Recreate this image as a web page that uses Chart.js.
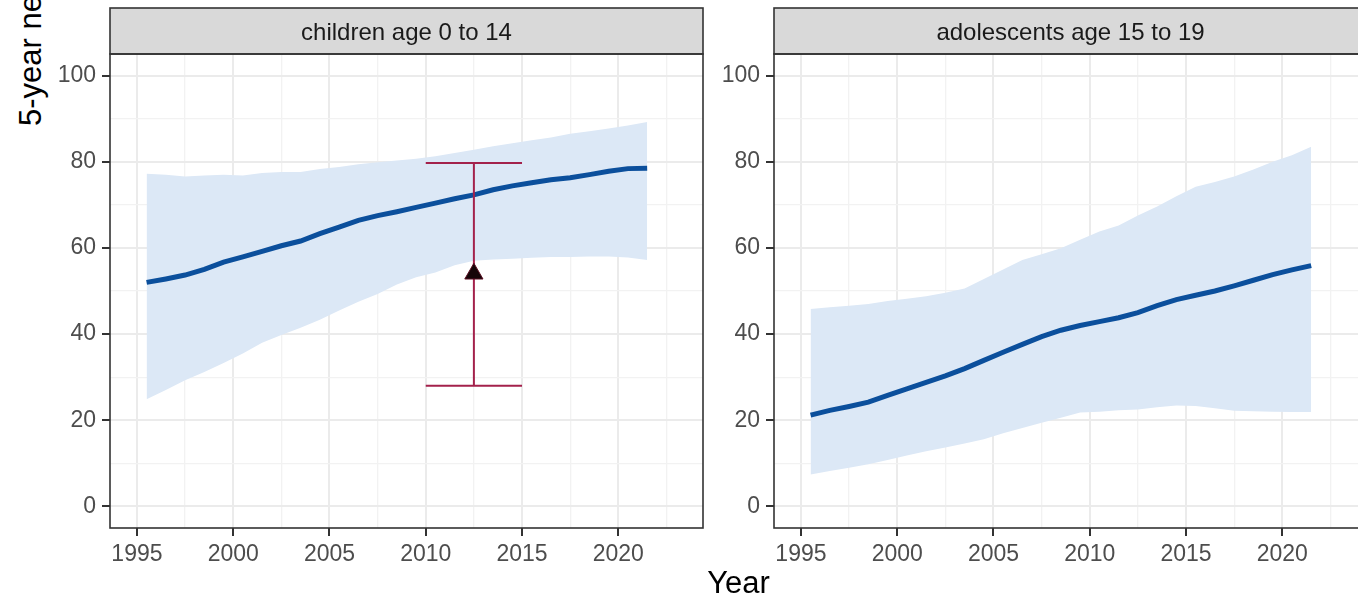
<!DOCTYPE html>
<html>
<head>
<meta charset="utf-8">
<script src="https://cdn.jsdelivr.net/npm/chart.js@4.4.1/dist/chart.umd.min.js"></script>
<style>
  html, body { margin: 0; padding: 0; background: #fff; overflow: hidden; }
  body { width: 1358px; height: 597px; position: relative; font-family: "Liberation Sans", Arial, sans-serif; }
  .panel { position: absolute; top: 0; width: 710px; height: 597px; }
  .panel canvas { display: block; }
  #yTitle {
    position: absolute; left: 15px; top: 126px; white-space: nowrap;
    font-size: 31px; line-height: 31px; color: #000;
    transform-origin: left top; transform: rotate(-90deg);
  }
  #xTitle {
    position: absolute; left: 110px; width: 1257px; top: 567px; text-align: center;
    font-size: 31px; line-height: 31px; color: #000;
  }
</style>
</head>
<body>
<div id="yTitle">5-year net survival (%)</div>
<div class="panel" style="left:0px"><canvas id="children" width="710" height="597"></canvas></div>
<div class="panel" style="left:664px"><canvas id="adolescents" width="710" height="597"></canvas></div>
<div id="xTitle">Year</div>
<script>
const years = [1995.5, 1996.5, 1997.5, 1998.5, 1999.5, 2000.5, 2001.5, 2002.5, 2003.5, 2004.5,
  2005.5, 2006.5, 2007.5, 2008.5, 2009.5, 2010.5, 2011.5, 2012.5, 2013.5, 2014.5,
  2015.5, 2016.5, 2017.5, 2018.5, 2019.5, 2020.5, 2021.5];

const childEst = [52.0, 52.8, 53.7, 55.0, 56.7, 57.9, 59.2, 60.5, 61.6, 63.3,
  64.8, 66.4, 67.5, 68.4, 69.4, 70.4, 71.4, 72.3, 73.5, 74.4,
  75.1, 75.8, 76.3, 77.0, 77.8, 78.4, 78.5];
const childUpper = [77.2, 77.0, 76.6, 76.8, 77.0, 76.8, 77.4, 77.6, 77.6, 78.3,
  78.8, 79.4, 79.9, 80.3, 80.7, 81.3, 82.0, 82.8, 83.6, 84.3,
  85.0, 85.6, 86.5, 87.1, 87.7, 88.4, 89.2];
const childLower = [24.9, 27.0, 29.3, 31.2, 33.3, 35.5, 38.0, 39.8, 41.5, 43.3,
  45.5, 47.5, 49.3, 51.5, 53.2, 54.3, 56.0, 57.0, 57.3, 57.5,
  57.7, 57.9, 57.9, 58.0, 58.0, 57.8, 57.2];

const adolEst = [21.2, 22.3, 23.2, 24.2, 25.8, 27.3, 28.8, 30.3, 32.0, 33.9,
  35.8, 37.6, 39.4, 40.9, 42.0, 42.9, 43.8, 45.0, 46.6, 48.0,
  49.0, 50.0, 51.2, 52.5, 53.8, 54.9, 55.9];
const adolUpper = [45.8, 46.2, 46.6, 47.0, 47.7, 48.2, 48.8, 49.6, 50.6, 52.8,
  55.0, 57.2, 58.5, 59.9, 61.9, 63.8, 65.2, 67.5, 69.6, 72.0,
  74.2, 75.3, 76.6, 78.2, 80.0, 81.5, 83.5];
const adolLower = [7.4, 8.2, 9.0, 9.8, 10.8, 11.8, 12.8, 13.7, 14.6, 15.6,
  17.0, 18.2, 19.4, 20.6, 21.8, 22.0, 22.3, 22.5, 23.0, 23.4,
  23.3, 22.8, 22.2, 22.1, 22.0, 21.9, 21.9];

// reference estimate (children panel): period 2010-2015
const refPeriod = [2010, 2015];
const refEst = 54;
const refLow = 28;
const refHigh = 79.7;

const xTicks = [1995, 1997.5, 2000, 2002.5, 2005, 2007.5, 2010, 2012.5, 2015, 2017.5, 2020, 2022.5];
const yTicks = [0, 10, 20, 30, 40, 50, 60, 70, 80, 90, 100];

const FONT = "'Liberation Sans', Arial, sans-serif";
const isMajorX = (v) => Number.isInteger(v);
const isMajorY = (v) => v % 20 === 0;

const pts = (xs, ys) => xs.map((x, i) => ({ x: x, y: ys[i] }));

const stripPlugin = {
  id: "strip",
  afterDraw(chart, args, opts) {
    const { ctx, chartArea: a } = chart;
    ctx.save();
    ctx.fillStyle = "#d9d9d9";
    ctx.fillRect(a.left, 8, a.right - a.left, a.top - 8);
    ctx.strokeStyle = "#333333";
    ctx.lineWidth = 1.6;
    ctx.strokeRect(a.left, 8, a.right - a.left, a.top - 8);
    ctx.strokeRect(a.left, a.top, a.right - a.left, a.bottom - a.top);
    ctx.fillStyle = "#1a1a1a";
    ctx.font = "24px " + FONT;
    ctx.textAlign = "center";
    ctx.textBaseline = "middle";
    ctx.fillText(opts.text, (a.left + a.right) / 2, (a.top + 8) / 2 + 2);
    ctx.restore();
  },
};

function panel(id, title, est, lower, upper, withRef) {
  const datasets = [
    { data: pts(years, lower), borderWidth: 0, pointRadius: 0, fill: false, order: 10 },
    { data: pts(years, upper), borderWidth: 0, pointRadius: 0, fill: "-1",
      backgroundColor: "#dce8f6", order: 9 },
    { data: pts(years, est), borderColor: "#0b4f9c", borderWidth: 5, pointRadius: 0,
      fill: false, order: 5 },
  ];
  if (withRef) {
    const mid = (refPeriod[0] + refPeriod[1]) / 2;
    const bar = { borderColor: "#a3214b", borderWidth: 2, pointRadius: 0, fill: false, order: 3 };
    datasets.push({ ...bar, data: [{ x: mid, y: refLow }, { x: mid, y: refHigh }] });
    datasets.push({ ...bar, data: [{ x: refPeriod[0], y: refHigh }, { x: refPeriod[1], y: refHigh }] });
    datasets.push({ ...bar, data: [{ x: refPeriod[0], y: refLow }, { x: refPeriod[1], y: refLow }] });
    datasets.push({ data: [{ x: mid, y: refEst }], showLine: false, pointStyle: "triangle",
      pointRadius: 10.5, backgroundColor: "#150508", borderColor: "#5a0f22", borderWidth: 1, order: 1 });
  }

  return new Chart(document.getElementById(id), {
    type: "line",
    data: { datasets },
    options: {
      responsive: false,
      animation: false,
      layout: { autoPadding: false, padding: { top: 54, right: 7, bottom: 29, left: 0 } },
      plugins: { legend: { display: false }, tooltip: { enabled: false }, strip: { text: title } },
      scales: {
        x: {
          type: "linear",
          min: 1993.6,
          max: 2024.4,
          afterBuildTicks: (s) => { s.ticks = xTicks.map((v) => ({ value: v })); },
          afterFit: (s) => { s.height = 40; s.paddingLeft = 0; s.paddingRight = 0; },
          grid: {
            color: (c) => (isMajorX(c.tick.value) ? "#ebebeb" : "#f2f2f2"),
            lineWidth: (c) => (isMajorX(c.tick.value) ? 2 : 1.3),
            tickColor: (c) => (isMajorX(c.tick.value) ? "#333333" : "rgba(0,0,0,0)"),
            tickLength: 8,
            tickWidth: 2,
          },
          border: { display: false },
          ticks: {
            autoSkip: false,
            maxRotation: 0,
            padding: 5,
            color: "#4d4d4d",
            font: { family: FONT, size: 23 },
            callback: (v) => (isMajorX(v) ? String(v) : ""),
          },
        },
        y: {
          type: "linear",
          min: -5,
          max: 105,
          afterBuildTicks: (s) => { s.ticks = yTicks.map((v) => ({ value: v })); },
          afterFit: (s) => { s.width = 110; s.paddingTop = 0; s.paddingBottom = 0; },
          grid: {
            color: (c) => (isMajorY(c.tick.value) ? "#ebebeb" : "#f2f2f2"),
            lineWidth: (c) => (isMajorY(c.tick.value) ? 2 : 1.3),
            tickColor: (c) => (isMajorY(c.tick.value) ? "#333333" : "rgba(0,0,0,0)"),
            tickLength: 8,
            tickWidth: 2,
          },
          border: { display: false },
          ticks: {
            autoSkip: false,
            padding: 6,
            color: "#4d4d4d",
            font: { family: FONT, size: 23 },
            callback: (v) => (isMajorY(v) ? String(v) : ""),
          },
        },
      },
    },
    plugins: [stripPlugin],
  });
}

panel("children", "children age 0 to 14", childEst, childLower, childUpper, true);
panel("adolescents", "adolescents age 15 to 19", adolEst, adolLower, adolUpper, false);
</script>
</body>
</html>
